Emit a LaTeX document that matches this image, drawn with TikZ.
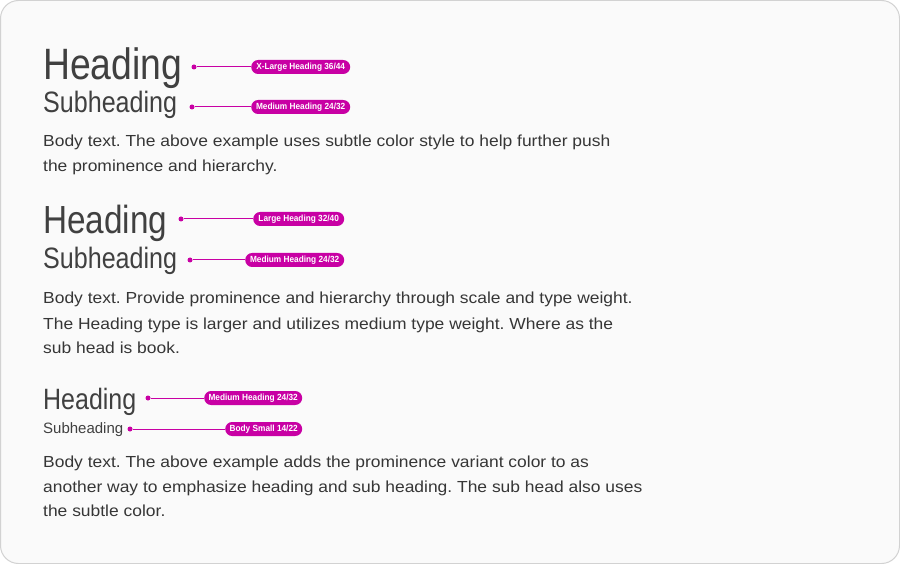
\documentclass[tikz,border=0pt]{standalone}
\usepackage{fontspec}
\setmainfont{Liberation Sans}
\newfontfamily\headfont[FakeStretch=0.85]{Liberation Sans}
\newfontfamily\bodyfont[FakeStretch=1.09]{Liberation Sans}
\newfontfamily\pillfont[FakeStretch=0.93]{Liberation Sans}
\definecolor{ink}{HTML}{363636}
\definecolor{headink}{HTML}{404040}
\definecolor{pink}{HTML}{C800A4}
\definecolor{card}{HTML}{FAFAFA}
\definecolor{edge}{HTML}{D2D2D2}
\tikzset{
  txt/.style={anchor=base west, inner sep=0pt, text=headink},
  body/.style={anchor=base west, inner sep=0pt, text=ink, font=\bodyfont\fontsize{16}{20}\selectfont},
  pill/.style={anchor=west, fill=pink, text=white, rounded corners=7pt, minimum height=14pt, inner xsep=2pt, inner ysep=0pt, font=\pillfont\bfseries\fontsize{8.9}{10}\selectfont},
  dot/.style={circle, fill=pink, inner sep=0pt, minimum size=5pt},
  lead/.style={draw=pink, line width=1pt},
}
\frenchspacing
\begin{document}
\begin{tikzpicture}[x=1pt,y=-1pt]
\useasboundingbox (0,0) rectangle (900,564);
\fill[white] (0,0) rectangle (900,564);
\draw[fill=card, draw=edge, line width=1pt, rounded corners=18pt] (0.5,0.5) rectangle (899.5,563.5);

% section 1
\node[txt, font=\headfont\fontsize{43.9}{44}\selectfont] (h1) at (43,80) {Heading};
\node[txt, font=\headfont\fontsize{29.5}{32}\selectfont] (s1) at (43,113) {Subheading};
\node[body] (b1a) at (43,147) {Body text. The above example uses subtle color style to help further push};
\node[body] (b1b) at (43,172) {the prominence and hierarchy.};

% section 2
\node[txt, font=\headfont\fontsize{39.2}{40}\selectfont] (h2) at (43,234) {Heading};
\node[txt, font=\headfont\fontsize{29.5}{32}\selectfont] (s2) at (43,269) {Subheading};
\node[body] (b2a) at (43,304) {Body text. Provide prominence and hierarchy through scale and type weight.};
\node[body] (b2b) at (43,329) {The Heading type is larger and utilizes medium type weight. Where as the};
\node[body] (b2c) at (43,353) {sub head is book.};

% section 3
\node[txt, font=\headfont\fontsize{29.4}{32}\selectfont] (h3) at (43,409) {Heading};
\node[txt, font=\fontsize{15}{22}\selectfont] (s3) at (43,433) {Subheading};
\node[body] (b3a) at (43,467) {Body text. The above example adds the prominence variant color to as};
\node[body] (b3b) at (43,492) {another way to emphasize heading and sub heading. The sub head also uses};
\node[body] (b3c) at (43,516) {the subtle color.};

% labels
\node[dot] (d1) at (194,67) {};
\node[pill, minimum width=99pt] (p1) at (251,67) {X-Large Heading 36/44};
\draw[lead] (d1) -- (p1);
\node[dot] (d2) at (192,107) {};
\node[pill, minimum width=99pt] (p2) at (251,107) {Medium Heading 24/32};
\draw[lead] (d2) -- (p2);
\node[dot] (d3) at (181,219) {};
\node[pill, minimum width=91pt] (p3) at (253,219) {Large Heading 32/40};
\draw[lead] (d3) -- (p3);
\node[dot] (d4) at (190,260) {};
\node[pill, minimum width=99pt] (p4) at (245,260) {Medium Heading 24/32};
\draw[lead] (d4) -- (p4);
\node[dot] (d5) at (148,398) {};
\node[pill, minimum width=98pt] (p5) at (204,398) {Medium Heading 24/32};
\draw[lead] (d5) -- (p5);
\node[dot] (d6) at (130,429) {};
\node[pill, minimum width=77pt] (p6) at (225,429) {Body Small 14/22};
\draw[lead] (d6) -- (p6);
\end{tikzpicture}
\end{document}
